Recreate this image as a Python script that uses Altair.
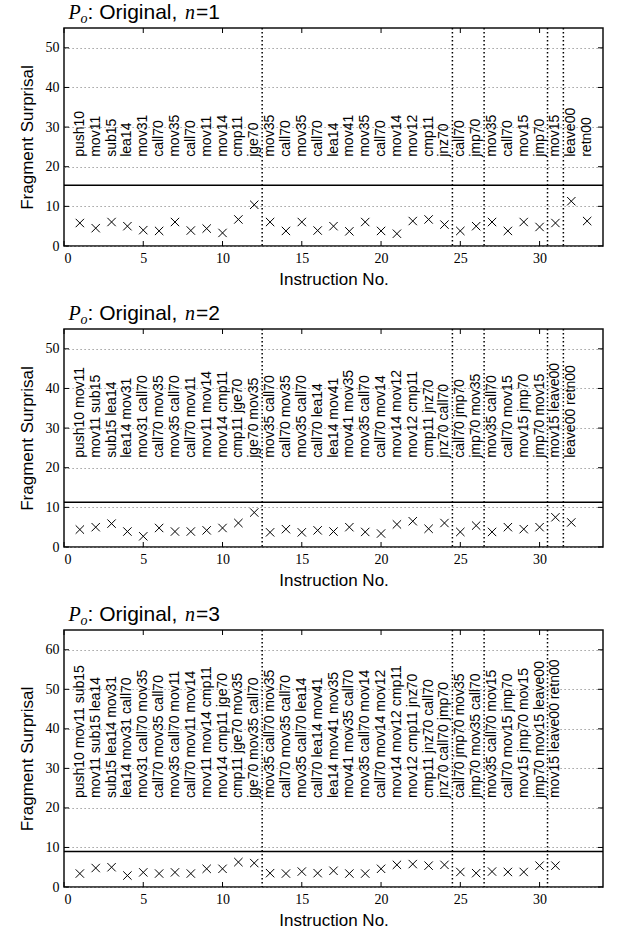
import altair as alt
import pandas as pd

# ---------------- data ----------------
labels_n1 = ["push10", "mov11", "sub15", "lea14", "mov31", "call70", "mov35", "call70",
             "mov11", "mov14", "cmp11", "jge70", "mov35", "call70", "mov35", "call70",
             "lea14", "mov41", "mov35", "call70", "mov14", "mov12", "cmp11", "jnz70",
             "call70", "jmp70", "mov35", "call70", "mov15", "jmp70", "mov15", "leave00", "retn00"]
values_n1 = [5.8, 4.5, 6.05, 5.0, 4.0, 3.8, 6.05, 3.9, 4.4, 3.3, 6.7, 10.4, 6.05, 3.8, 6.05, 3.9,
             5.0, 3.7, 6.05, 3.8, 3.1, 6.3, 6.7, 5.4, 3.8, 5.0, 6.05, 3.8, 6.05, 4.8, 5.8, 11.3, 6.3]
threshold_n1 = 15.3
separators_n1 = [12.5, 24.5, 26.5, 30.5, 31.5]

labels_n2 = ["push10 mov11", "mov11 sub15", "sub15 lea14", "lea14 mov31", "mov31 call70",
             "call70 mov35", "mov35 call70", "call70 mov11", "mov11 mov14", "mov14 cmp11",
             "cmp11 jge70", "jge70 mov35", "mov35 call70", "call70 mov35", "mov35 call70",
             "call70 lea14", "lea14 mov41", "mov41 mov35", "mov35 call70", "call70 mov14",
             "mov14 mov12", "mov12 cmp11", "cmp11 jnz70", "jnz70 call70", "call70 jmp70",
             "jmp70 mov35", "mov35 call70", "call70 mov15", "mov15 jmp70", "jmp70 mov15",
             "mov15 leave00", "leave00 retn00"]
values_n2 = [4.4, 5.0, 5.9, 3.9, 2.7, 4.8, 3.9, 3.9, 4.2, 4.8, 6.05, 8.7, 3.7, 4.5, 3.7, 4.2,
             3.9, 5.0, 3.8, 3.4, 5.7, 6.5, 4.6, 6.05, 3.8, 5.4, 3.8, 5.0, 4.5, 5.0, 7.5, 6.2]
threshold_n2 = 11.3
separators_n2 = [12.5, 24.5, 26.5, 30.5, 31.5]

labels_n3 = ["push10 mov11 sub15", "mov11 sub15 lea14", "sub15 lea14 mov31", "lea14 mov31 call70",
             "mov31 call70 mov35", "call70 mov35 call70", "mov35 call70 mov11", "call70 mov11 mov14",
             "mov11 mov14 cmp11", "mov14 cmp11 jge70", "cmp11 jge70 mov35", "jge70 mov35 call70",
             "mov35 call70 mov35", "call70 mov35 call70", "mov35 call70 lea14", "call70 lea14 mov41",
             "lea14 mov41 mov35", "mov41 mov35 call70", "mov35 call70 mov14", "call70 mov14 mov12",
             "mov14 mov12 cmp11", "mov12 cmp11 jnz70", "cmp11 jnz70 call70", "jnz70 call70 jmp70",
             "call70 jmp70 mov35", "jmp70 mov35 call70", "mov35 call70 mov15", "call70 mov15 jmp70",
             "mov15 jmp70 mov15", "jmp70 mov15 leave00", "mov15 leave00 retn00"]
values_n3 = [3.4, 4.8, 5.0, 2.9, 3.7, 3.4, 3.7, 3.4, 4.6, 4.6, 6.3, 6.05, 3.5, 3.4, 3.9, 3.5,
             4.1, 3.4, 3.4, 4.6, 5.6, 5.8, 5.4, 5.6, 3.8, 3.5, 3.9, 3.8, 3.8, 5.4, 5.4]
threshold_n3 = 9.0
separators_n3 = [12.5, 24.5, 26.5, 30.5]

x_ticks = [0, 5, 10, 15, 20, 25, 30]
y_ticks_n12 = [0, 10, 20, 30, 40, 50]
y_ticks_n3 = [0, 10, 20, 30, 40, 50, 60]
x_max = 34

# ---------------- styling ----------------
WIDTH = 539
X_PATH = "M-1,-1L1,1M-1,1L1,-1"
SANS = "Liberation Sans"
SERIF = "Liberation Serif"
TICK = 5


def one_text(s, xpx, ypx, font, size, style="normal"):
    return alt.Chart(pd.DataFrame({"t": [s]})).mark_text(
        align="left", baseline="alphabetic", font=font, fontSize=size,
        fontStyle=style, color="black"
    ).encode(x=alt.value(xpx), y=alt.value(ypx), text="t:N")


def panel(n, labels, values, threshold, separators, y_ticks, ymax, height, label_y):
    pts = pd.DataFrame({"x": list(range(1, len(values) + 1)), "y": values, "label": labels})
    xs = alt.Scale(domain=[0, x_max], nice=False, zero=False)
    ys = alt.Scale(domain=[0, ymax], nice=False, zero=False)

    points = alt.Chart(pts).mark_point(
        shape=X_PATH, filled=False, stroke="black", strokeWidth=1, size=70, opacity=1
    ).encode(
        x=alt.X("x:Q", scale=xs, axis=alt.Axis(values=x_ticks, title="Instruction No.",
                                                grid=False, format="d")),
        y=alt.Y("y:Q", scale=ys, axis=alt.Axis(values=y_ticks, title="Fragment Surprisal",
                                                grid=True, format="d")),
    )

    texts = alt.Chart(pts).mark_text(
        angle=270, align="left", baseline="middle", font=SANS, fontSize=14, color="black"
    ).encode(
        x=alt.X("x:Q"),
        y=alt.YDatum(label_y),
        text="label:N",
    )

    seps = alt.Chart(pd.DataFrame({"s": separators})).mark_rule(
        color="black", strokeWidth=1.5, strokeDash=[1.5, 2.5]
    ).encode(x=alt.X("s:Q"))

    thr = alt.Chart(pd.DataFrame({"t": [threshold]})).mark_rule(
        color="black", strokeWidth=1.5
    ).encode(y=alt.Y("t:Q"))

    xt = pd.DataFrame({"v": x_ticks})
    yt = pd.DataFrame({"v": y_ticks})
    tick_style = dict(color="black", strokeWidth=1)
    xb = alt.Chart(xt).mark_rule(**tick_style).encode(
        x=alt.X("v:Q"), y=alt.value(height), y2=alt.value(height - TICK))
    xtop = alt.Chart(xt).mark_rule(**tick_style).encode(
        x=alt.X("v:Q"), y=alt.value(0), y2=alt.value(TICK))
    yl = alt.Chart(yt).mark_rule(**tick_style).encode(
        y=alt.Y("v:Q"), x=alt.value(0), x2=alt.value(TICK))
    yr = alt.Chart(yt).mark_rule(**tick_style).encode(
        y=alt.Y("v:Q"), x=alt.value(WIDTH - TICK), x2=alt.value(WIDTH))

    ty = -9
    title = [
        one_text("P", 4.5, ty, SERIF, 20, "italic"),
        one_text("o", 16.5, ty + 4, SERIF, 14, "italic"),
        one_text(": Original,", 23.5, ty, SANS, 21),
        one_text("n", 121, ty, SERIF, 20, "italic"),
        one_text("=" + str(n), 132, ty, SANS, 21),
    ]

    return alt.layer(points, seps, thr, texts, xb, xtop, yl, yr, *title).properties(
        width=WIDTH, height=height)


p1 = panel(1, labels_n1, values_n1, threshold_n1, separators_n1, y_ticks_n12, 55, 218, 22.5)
p2 = panel(2, labels_n2, values_n2, threshold_n2, separators_n2, y_ticks_n12, 55, 218, 22.5)
p3 = panel(3, labels_n3, values_n3, threshold_n3, separators_n3, y_ticks_n3, 65, 257, 22.5)

chart = alt.vconcat(p1, p2, p3, spacing=14).properties(
    padding={"left": 17, "top": 1, "right": 5, "bottom": 0}
).configure_view(
    stroke="#111", strokeWidth=1.5
).configure_axis(
    domain=False, ticks=False,
    labelFont=SERIF, labelFontSize=14, labelColor="black", labelPadding=5,
    titleFont=SANS, titleFontSize=17, titleFontWeight="normal", titleColor="black",
    gridColor="#888", gridDash=[1.2, 2.8], gridWidth=1,
).configure_axisX(titlePadding=6).configure_axisY(titlePadding=9)

chart.save("out.html", embed_options={"renderer": "svg", "actions": False})
